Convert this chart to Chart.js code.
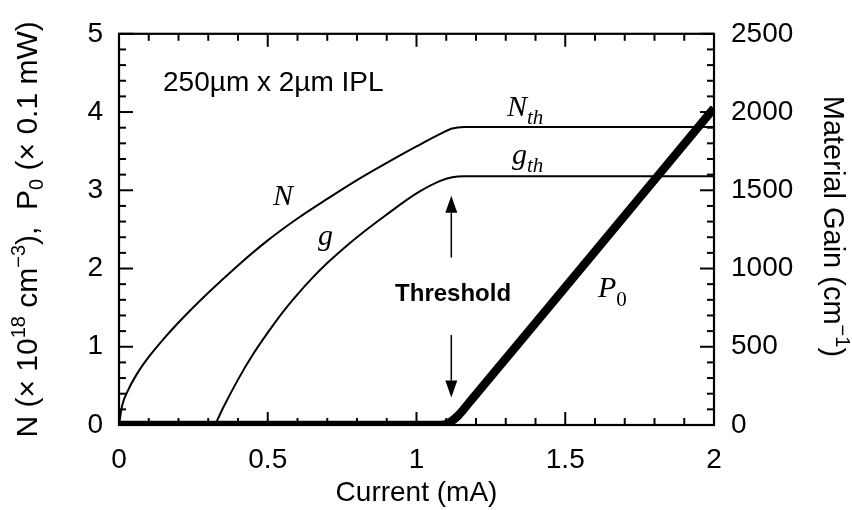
<!DOCTYPE html>
<html>
<head>
<meta charset="utf-8">
<script src="https://cdn.jsdelivr.net/npm/chart.js@4.4.1/dist/chart.umd.min.js"></script>
<style>
  html, body { margin: 0; padding: 0; background: #fff; }
  #wrap { width: 852px; height: 510px; }
</style>
</head>
<body>
<div id="wrap"><canvas id="chart" width="852" height="510"></canvas></div>
<script>
// carrier density N (x 1e18 cm^-3) vs current (mA)
const currentN = [0, 0.01, 0.03, 0.06, 0.1, 0.15, 0.2, 0.3, 0.4, 0.5, 0.6, 0.7, 0.8, 0.9, 1.0, 1.08, 1.12, 1.16, 2.0];
const densityN = [0, 0.24, 0.44, 0.65, 0.87, 1.10, 1.31, 1.69, 2.04, 2.36, 2.64, 2.89, 3.13, 3.35, 3.56, 3.72, 3.79, 3.81, 3.81];

// material gain g (cm^-1), right axis
const currentG = [0.323, 0.35, 0.4, 0.45, 0.5, 0.55, 0.6, 0.65, 0.7, 0.75, 0.8, 0.9, 1.0, 1.08, 1.12, 1.16, 2.0];
const gainG = [0, 110, 290, 450, 590, 720, 835, 940, 1035, 1120, 1200, 1345, 1480, 1560, 1583, 1590, 1590];

// output power P0 (x 0.1 mW)
const currentP = [0, 0.5, 1.0, 1.08, 1.11, 1.14, 1.18, 1.25, 1.5, 2.0];
const powerP = [0, 0, 0, 0, 0.03, 0.12, 0.30, 0.62, 1.76, 4.05];

// tick labels
const xTicks = [0, 0.5, 1, 1.5, 2];
const yTicks = [0, 1, 2, 3, 4, 5];
const gainTicks = [0, 500, 1000, 1500, 2000, 2500];
const xMinorStep = 0.1, yMinorStep = 0.2, gainMinorStep = 100;

// text labels inside the plot (x in mA, y in left-axis units, baseline)
const sans = '"Liberation Sans", Arial, Helvetica, sans-serif';
const serif = '"Liberation Serif", "Times New Roman", serif';
const notes = [
    {x: 0.148, y: 4.27, parts: [{t: '250µm x 2µm IPL', f: `28px ${sans}`}]},
    {x: 0.518, y: 2.81, parts: [{t: 'N', f: `italic 30px ${serif}`}]},
    {x: 0.669, y: 2.30, parts: [{t: 'g', f: `italic 30px ${serif}`}]},
    {x: 1.304, y: 3.95, parts: [{t: 'N', f: `italic 30px ${serif}`}, {t: 'th', f: `italic 21px ${serif}`, dy: 8}]},
    {x: 1.321, y: 3.34, parts: [{t: 'g', f: `italic 30px ${serif}`}, {t: 'th', f: `italic 21px ${serif}`, dy: 8}]},
    {x: 1.61, y: 1.64, parts: [{t: 'P', f: `italic 30px ${serif}`}, {t: '0', f: `21px ${serif}`, dy: 9}]},
    {x: 1.123, y: 1.59, center: true, parts: [{t: 'Threshold', f: `bold 24px ${sans}`}]}
];
// threshold arrows: tail -> tip (left-axis units)
const arrowCurrent = 1.117;
const arrows = [[2.14, 2.93], [1.15, 0.35]];

const leftTitle = [
    {t: 'N (× 10', f: `30px ${sans}`},
    {t: '18', f: `20px ${sans}`, dy: -12},
    {t: ' cm', f: `30px ${sans}`},
    {t: '−3', f: `20px ${sans}`, dy: -12},
    {t: '),  P', f: `30px ${sans}`},
    {t: '0', f: `20px ${sans}`, dy: 6},
    {t: ' (× 0.1 mW)', f: `30px ${sans}`}
];
const rightTitle = [
    {t: 'Material Gain (cm', f: `29px ${sans}`},
    {t: '−1', f: `20px ${sans}`, dy: -12},
    {t: ')', f: `29px ${sans}`}
];

function drawParts(ctx, parts, x, y, angle, centered) {
    ctx.save();
    ctx.translate(x, y);
    ctx.rotate(angle);
    ctx.textAlign = 'left';
    ctx.textBaseline = 'alphabetic';
    let w = 0;
    parts.forEach(p => { ctx.font = p.f; p.w = ctx.measureText(p.t).width; w += p.w; });
    let xx = centered ? -w / 2 : 0;
    parts.forEach(p => { ctx.font = p.f; ctx.fillText(p.t, xx, p.dy || 0); xx += p.w; });
    ctx.restore();
}

function seg(ctx, x1, y1, x2, y2) {
    ctx.beginPath();
    ctx.moveTo(x1, y1);
    ctx.lineTo(x2, y2);
    ctx.stroke();
}

// frame, inward ticks, titles and notes
const decorations = {
    id: 'decorations',
    afterDatasetsDraw(chart) {
        const {ctx, chartArea: a, scales: {x, y, y2}} = chart;
        ctx.save();
        ctx.strokeStyle = '#000';
        ctx.fillStyle = '#000';
        ctx.lineWidth = 2;
        for (let i = 0; i <= Math.round(2 / xMinorStep); i++) {
            const v = i * xMinorStep;
            const px = x.getPixelForValue(v);
            const len = xTicks.some(t => Math.abs(t - v) < 1e-6) ? 13 : 7;
            seg(ctx, px, a.bottom, px, a.bottom - len);
            seg(ctx, px, a.top, px, a.top + len);
        }
        for (let i = 0; i <= Math.round(5 / yMinorStep); i++) {
            const v = i * yMinorStep;
            const py = y.getPixelForValue(v);
            const len = yTicks.some(t => Math.abs(t - v) < 1e-6) ? 14 : 7;
            seg(ctx, a.left, py, a.left + len, py);
        }
        for (let i = 0; i <= Math.round(2500 / gainMinorStep); i++) {
            const v = i * gainMinorStep;
            const py = y2.getPixelForValue(v);
            const len = gainTicks.includes(v) ? 14 : 7;
            seg(ctx, a.right, py, a.right - len, py);
        }
        ctx.lineWidth = 2.2;
        ctx.strokeRect(a.left, a.top, a.right - a.left, a.bottom - a.top);

        // arrows
        ctx.lineWidth = 1.5;
        const ax = x.getPixelForValue(arrowCurrent);
        arrows.forEach(([from, to]) => {
            const p1 = y.getPixelForValue(from), p2 = y.getPixelForValue(to);
            const dir = Math.sign(p2 - p1);
            const head = 17;
            seg(ctx, ax, p1, ax, p2 - dir * head);
            ctx.beginPath();
            ctx.moveTo(ax, p2);
            ctx.lineTo(ax - 6, p2 - dir * head);
            ctx.lineTo(ax + 6, p2 - dir * head);
            ctx.closePath();
            ctx.fill();
        });

        notes.forEach(n => {
            drawParts(ctx, n.parts, x.getPixelForValue(n.x), y.getPixelForValue(n.y), 0, n.center);
        });

        // axis titles with super/subscripts
        const midY = (a.top + a.bottom) / 2;
        drawParts(ctx, leftTitle, a.left - 82, midY, -Math.PI / 2, true);
        drawParts(ctx, rightTitle, a.right + 110, midY - 3, Math.PI / 2, true);
        ctx.restore();
    }
};

const tickFont = {family: sans, size: 28};

new Chart(document.getElementById('chart'), {
    type: 'line',
    data: {
        datasets: [{
            label: 'N',
            data: currentN.map((c, i) => ({x: c, y: densityN[i]})),
            yAxisID: 'y',
            borderColor: '#000',
            borderWidth: 2,
            pointRadius: 0,
            cubicInterpolationMode: 'monotone'
        }, {
            label: 'g',
            data: currentG.map((c, i) => ({x: c, y: gainG[i]})),
            yAxisID: 'y2',
            borderColor: '#000',
            borderWidth: 2,
            pointRadius: 0,
            cubicInterpolationMode: 'monotone'
        }, {
            label: 'P0',
            data: currentP.map((c, i) => ({x: c, y: powerP[i]})),
            yAxisID: 'y',
            borderColor: '#000',
            borderWidth: 8.5,
            pointRadius: 0,
            borderCapStyle: 'butt',
            cubicInterpolationMode: 'monotone'
        }]
    },
    options: {
        responsive: false,
        animation: false,
        events: [],
        layout: {padding: {top: 23.5, left: 0, right: 0, bottom: 0}},
        plugins: {legend: {display: false}, tooltip: {enabled: false}},
        scales: {
            x: {
                type: 'linear', position: 'bottom', min: 0, max: 2,
                afterBuildTicks: s => { s.ticks = xTicks.map(v => ({value: v})); },
                afterFit: s => { s.height = 85; },
                grid: {display: false, drawTicks: false},
                border: {display: false},
                ticks: {font: tickFont, color: '#000', padding: 18, maxRotation: 0, callback: v => String(v)},
                title: {display: true, text: 'Current (mA)', font: tickFont, color: '#000', padding: {top: 0, bottom: 0}}
            },
            y: {
                type: 'linear', position: 'left', min: 0, max: 5,
                afterBuildTicks: s => { s.ticks = yTicks.map(v => ({value: v})); },
                afterFit: s => { s.width = 119; },
                grid: {display: false, drawTicks: false},
                border: {display: false},
                ticks: {font: tickFont, color: '#000', padding: 16, callback: v => String(v)}
            },
            y2: {
                type: 'linear', position: 'right', min: 0, max: 2500,
                afterBuildTicks: s => { s.ticks = gainTicks.map(v => ({value: v})); },
                afterFit: s => { s.width = 138; },
                grid: {display: false, drawTicks: false},
                border: {display: false},
                ticks: {font: tickFont, color: '#000', padding: 17, callback: v => String(v)}
            }
        }
    },
    plugins: [decorations]
});
</script>
</body>
</html>
